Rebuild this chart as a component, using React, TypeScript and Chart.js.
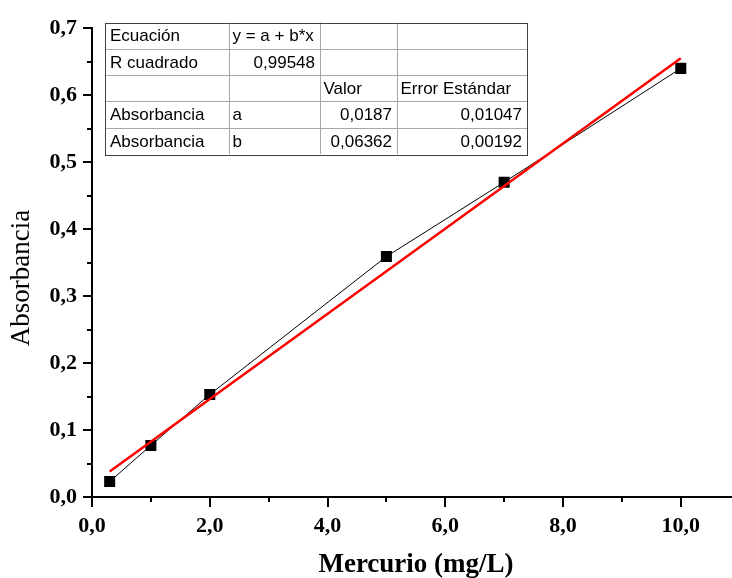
import React, { useEffect, useRef } from "react";
import { Chart, registerables } from "chart.js";

Chart.register(...registerables);

// ---- data ----
const concentration = [0.3, 1, 2, 5, 7, 10];
const absorbance = [0.023, 0.077, 0.153, 0.359, 0.47, 0.64];
const fitX = [0.3, 10];
const fitY = [0.038, 0.655];

const xTitle = "Mercurio (mg/L)";
const yTitle = "Absorbancia";

const tableRow0 = ["Ecuación", "y = a + b*x", "", ""];
const tableRow1 = ["R cuadrado", "0,99548", "", ""];
const tableRow2 = ["", "", "Valor", "Error Estándar"];
const tableRow3 = ["Absorbancia", "a", "0,0187", "0,01047"];
const tableRow4 = ["Absorbancia", "b", "0,06362", "0,00192"];
const tableRows = [tableRow0, tableRow1, tableRow2, tableRow3, tableRow4];

const fmt = (v: number) => v.toFixed(1).replace(".", ",");

const ticksPlugin = {
  id: "customTicks",
  afterDraw(chart: any) {
    const ctx = chart.ctx;
    const xs = chart.scales.x;
    const ys = chart.scales.y;
    const ca = chart.chartArea;
    ctx.save();
    ctx.strokeStyle = "#000";
    ctx.lineWidth = 2;
    // x ticks
    for (let v = 0; v <= 10; v += 1) {
      const px = Math.round(xs.getPixelForValue(v));
      const len = v % 2 === 0 ? 10 : 5;
      ctx.beginPath();
      ctx.moveTo(px, ca.bottom);
      ctx.lineTo(px, ca.bottom + len);
      ctx.stroke();
    }
    // y ticks
    for (let i = 0; i <= 14; i++) {
      const v = i * 0.05;
      const py = Math.round(ys.getPixelForValue(v));
      const len = i % 2 === 0 ? 9 : 5;
      ctx.beginPath();
      ctx.moveTo(ca.left, py);
      ctx.lineTo(ca.left - len, py);
      ctx.stroke();
    }
    // titles
    ctx.fillStyle = "#000";
    ctx.font = "bold 27px 'Liberation Serif', 'Times New Roman', serif";
    ctx.textAlign = "center";
    ctx.textBaseline = "middle";
    ctx.fillText(xTitle, 416, 565);
    ctx.save();
    ctx.translate(22, 278);
    ctx.rotate(-Math.PI / 2);
    ctx.font = "27px 'Liberation Serif', 'Times New Roman', serif";
    ctx.fillText(yTitle, 0, 0);
    ctx.restore();

    // table
    const cols = [105, 229, 320, 397, 527];
    const top = 22.5;
    const rh = 26.3;
    const n = tableRows.length;
    const bottom = top + rh * n;
    ctx.fillStyle = "#fff";
    ctx.fillRect(cols[0], top, cols[4] - cols[0], bottom - top);
    ctx.lineWidth = 1;
    ctx.strokeStyle = "#a8a8a8";
    for (let r = 1; r < n; r++) {
      const y = Math.round(top + rh * r) + 0.5;
      ctx.beginPath();
      ctx.moveTo(cols[0], y);
      ctx.lineTo(cols[4], y);
      ctx.stroke();
    }
    for (let c = 1; c < cols.length - 1; c++) {
      const x = cols[c] + 0.5;
      ctx.beginPath();
      ctx.moveTo(x, top);
      ctx.lineTo(x, bottom);
      ctx.stroke();
    }
    ctx.strokeStyle = "#404040";
    ctx.strokeRect(cols[0] + 0.5, Math.round(top) + 0.5, cols[4] - cols[0], Math.round(bottom - top));
    ctx.fillStyle = "#000";
    ctx.font = "17px 'Liberation Sans', Arial, sans-serif";
    ctx.textBaseline = "middle";
    tableRows.forEach((row, r) => {
      const cy = top + rh * r + rh / 2 + 1;
      row.forEach((txt, c) => {
        if (!txt) return;
        const numeric = /^[0-9,]+$/.test(txt);
        if (numeric) {
          ctx.textAlign = "right";
          ctx.fillText(txt, cols[c + 1] - 5, cy);
        } else {
          ctx.textAlign = "left";
          ctx.fillText(txt, cols[c] + (c === 0 ? 5 : 3.5), cy);
        }
      });
    });
    ctx.restore();
  },
};

export default function App() {
  const ref = useRef<HTMLCanvasElement>(null);
  useEffect(() => {
    document.body.style.margin = "0";
    const chart = new Chart(ref.current!, {
      type: "scatter",
      data: {
        datasets: [
          {
            label: "Ajuste",
            data: fitX.map((x, i) => ({ x, y: fitY[i] })),
            showLine: true,
            borderColor: "#ff0000",
            backgroundColor: "#ff0000",
            borderWidth: 2.5,
            pointRadius: 0,
          },
          {
            label: "Absorbancia",
            data: concentration.map((x, i) => ({ x, y: absorbance[i] })),
            showLine: true,
            borderColor: "#000",
            backgroundColor: "#000",
            borderWidth: 1,
            pointStyle: "rect",
            pointRadius: 7.8,
            pointBorderWidth: 0,
          },
        ],
      },
      options: {
        responsive: false,
        animation: false,
        layout: { autoPadding: false, padding: { top: 21, right: 0, left: 0, bottom: 0 } },
        plugins: { legend: { display: false }, tooltip: { enabled: false } },
        scales: {
          x: {
            type: "linear",
            min: 0,
            max: 10.87,
            afterFit: (s: any) => {
              s.height = 81;
              s.paddingRight = 0;
              s.paddingLeft = 0;
            },
            ticks: {
              stepSize: 2,
              includeBounds: false,
              padding: 16,
              color: "#000",
              font: { family: "'Liberation Serif', 'Times New Roman', serif", size: 22, weight: "bold" },
              callback: (v: any) => fmt(Number(v)),
            },
            grid: { drawOnChartArea: false, drawTicks: false },
            border: { display: true, color: "#000", width: 2 },
          },
          y: {
            type: "linear",
            min: 0,
            max: 0.7,
            afterFit: (s: any) => {
              s.width = 92;
              s.paddingRight = 0;
              s.paddingLeft = 0;
            },
            ticks: {
              stepSize: 0.1,
              padding: 15,
              color: "#000",
              font: { family: "'Liberation Serif', 'Times New Roman', serif", size: 22, weight: "bold" },
              callback: (v: any) => fmt(Number(v)),
            },
            grid: { drawOnChartArea: false, drawTicks: false },
            border: { display: true, color: "#000", width: 2 },
          },
        },
      },
      plugins: [ticksPlugin],
    });
    return () => chart.destroy();
  }, []);
  return (
    <div style={{ position: "absolute", left: 0, top: 0, width: 732, height: 578 }}>
      <canvas ref={ref} width={732} height={578} />
    </div>
  );
}
